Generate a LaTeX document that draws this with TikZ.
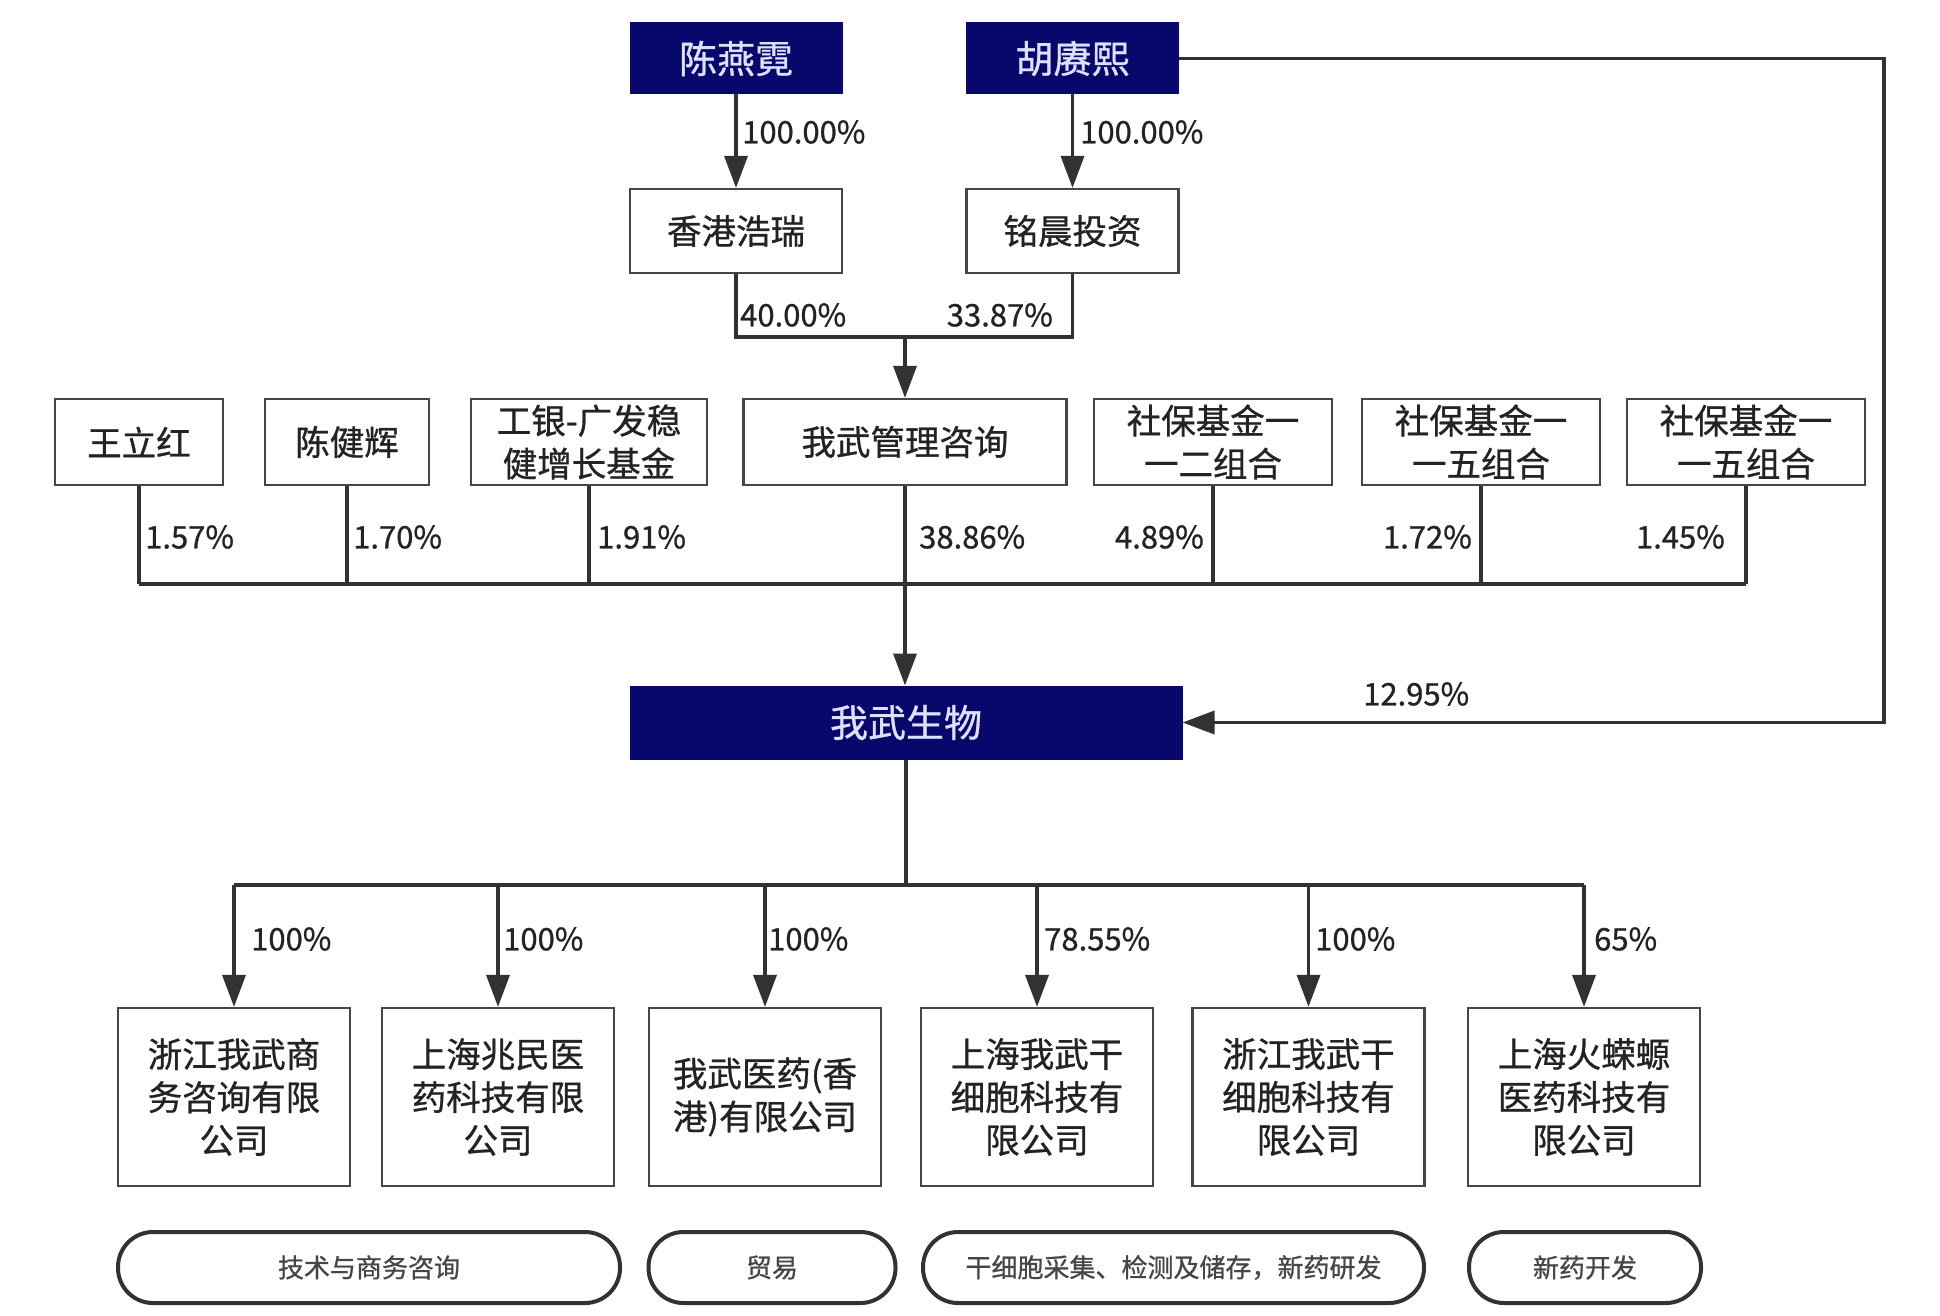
\documentclass[tikz,border=0pt]{standalone}
\usepackage{fontspec}
\setmainfont{Noto Sans CJK SC}[FakeBold=0.8]
\usetikzlibrary{arrows.meta}
\definecolor{navy}{RGB}{8,8,108}
\definecolor{navytext}{RGB}{222,224,255}
\definecolor{lineclr}{RGB}{50,50,50}
\definecolor{boxclr}{RGB}{70,70,70}
\definecolor{txt}{RGB}{35,35,35}
\begin{document}
\begin{tikzpicture}[x=1pt,y=-1pt,
  box/.style={draw=boxclr, line width=2.2pt, fill=white, text=txt, align=center, inner sep=0pt,
              font=\fontsize{34.5}{43}\selectfont},
  topbox/.style={draw=navy, line width=1pt, fill=navy, text=navytext, align=center, inner sep=0pt,
              font=\fontsize{38}{44}\selectfont},
  pill/.style={draw=lineclr, line width=4pt, fill=white, text=boxclr, align=center, inner sep=0pt,
              rounded corners=35pt, font=\fontsize{26}{30}\selectfont},
  conn/.style={draw=lineclr, line width=3.5pt},
  busline/.style={draw=lineclr, line width=4.5pt},
  arr/.style={conn, -{Triangle[length=32pt,width=23pt]}},
  pct/.style={text=txt, inner sep=0pt, font=\fontsize{31}{34}\selectfont}
]
\useasboundingbox (0,0) rectangle (1940,1316);
\fill[white] (0,0) rectangle (1940,1316);

% top owners
\node[topbox, minimum width=212pt, minimum height=71pt] (t1) at (736,58.5) {陈燕霓};
\node[topbox, minimum width=212pt, minimum height=71pt] (t2) at (1072.5,58.5) {胡赓熙};
\node[box, minimum width=212pt, minimum height=84pt] (m1) at (736,231) {香港浩瑞};
\node[box, minimum width=212pt, minimum height=84pt] (m2) at (1072.5,231) {铭晨投资};

% shareholder row
\node[box, minimum width=168pt, minimum height=86pt] (r1) at (139,442) {王立红};
\node[box, minimum width=164pt, minimum height=86pt] (r2) at (347,442) {陈健辉};
\node[box, minimum width=236pt, minimum height=86pt] (r3) at (589,442) {工银-广发稳\\健增长基金};
\node[box, minimum width=323pt, minimum height=86pt] (r4) at (905,442) {我武管理咨询};
\node[box, minimum width=238pt, minimum height=86pt] (r5) at (1213,442) {社保基金一\\一二组合};
\node[box, minimum width=238pt, minimum height=86pt] (r6) at (1481,442) {社保基金一\\一五组合};
\node[box, minimum width=238pt, minimum height=86pt] (r7) at (1746,442) {社保基金一\\一五组合};

% main company
\node[topbox, minimum width=552pt, minimum height=73pt] (main) at (906,722.5) {我武生物};

% subsidiaries
\node[box, minimum width=232pt, minimum height=178pt] (b1) at (234,1097) {浙江我武商\\务咨询有限\\公司};
\node[box, minimum width=232pt, minimum height=178pt] (b2) at (498,1097) {上海兆民医\\药科技有限\\公司};
\node[box, minimum width=232pt, minimum height=178pt] (b3) at (765,1097) {我武医药(香\\港)有限公司};
\node[box, minimum width=232pt, minimum height=178pt] (b4) at (1037,1097) {上海我武干\\细胞科技有\\限公司};
\node[box, minimum width=232pt, minimum height=178pt] (b5) at (1308.5,1097) {浙江我武干\\细胞科技有\\限公司};
\node[box, minimum width=232pt, minimum height=178pt] (b6) at (1584,1097) {上海火蝾螈\\医药科技有\\限公司};

% business pills
\node[pill, minimum width=502pt, minimum height=71pt] (p1) at (369,1267.5) {技术与商务咨询};
\node[pill, minimum width=247pt, minimum height=71pt] (p2) at (772,1267.5) {贸易};
\node[pill, minimum width=501pt, minimum height=71pt] (p3) at (1173.5,1267.5) {干细胞采集、检测及储存，新药研发};
\node[pill, minimum width=232pt, minimum height=71pt] (p4) at (1585,1267.5) {新药开发};

% top connectors
\draw[arr] (t1) -- (m1);
\draw[arr] (t2) -- (m2);
\node[pct, anchor=west] (l1) at (742,132) {100.00\%};
\node[pct, anchor=west] (l2) at (1080,132) {100.00\%};

\coordinate (j) at (905,337);
\draw[conn] (m1.south) |- (j) -| (m2.south);
\draw[arr] (j) -- (r4.north);
\node[pct, anchor=west] (l3) at (740,315) {40.00\%};
\node[pct, anchor=east] (l4) at (1053,315) {33.87\%};

% shareholder bus
\coordinate (bus) at (0,584);
\foreach \n in {r1,r2,r3,r5,r6,r7} \draw[conn] (\n.south) -- (\n.south |- bus);
\draw[busline] (r1.south |- bus) -- (r7.south |- bus);
\draw[arr] (r4.south) -- (r4.south |- main.north);
\node[pct, anchor=west] (l5) at (145,537) {1.57\%};
\node[pct, anchor=west] (l6) at (353,537) {1.70\%};
\node[pct, anchor=west] (l7) at (597,537) {1.91\%};
\node[pct, anchor=west] (l8) at (919,537) {38.86\%};
\node[pct, anchor=east] (l9) at (1204,537) {4.89\%};
\node[pct, anchor=east] (l10) at (1472,537) {1.72\%};
\node[pct, anchor=east] (l11) at (1725,537) {1.45\%};

% loop from 胡赓熙
\coordinate (rc) at (1884,58.5);
\draw[arr] (t2.east) -- (rc) |- (main.east);
\node[pct, anchor=west] (l12) at (1363,694) {12.95\%};

% subsidiaries bus
\coordinate (lb) at (0,885);
\draw[conn] (main.south) -- (main.south |- lb);
\draw[conn] (b1.north |- lb) -- (b6.north |- lb);
\foreach \n in {b1,b2,b3,b4,b5,b6} \draw[arr] (\n.north |- lb) -- (\n.north);
\node[pct, anchor=west] (s1) at (251,939) {100\%};
\node[pct, anchor=west] (s2) at (503,939) {100\%};
\node[pct, anchor=west] (s3) at (768,939) {100\%};
\node[pct, anchor=west] (s4) at (1044,939) {78.55\%};
\node[pct, anchor=west] (s5) at (1315,939) {100\%};
\node[pct, anchor=west] (s6) at (1594,939) {65\%};
\end{tikzpicture}
\end{document}
